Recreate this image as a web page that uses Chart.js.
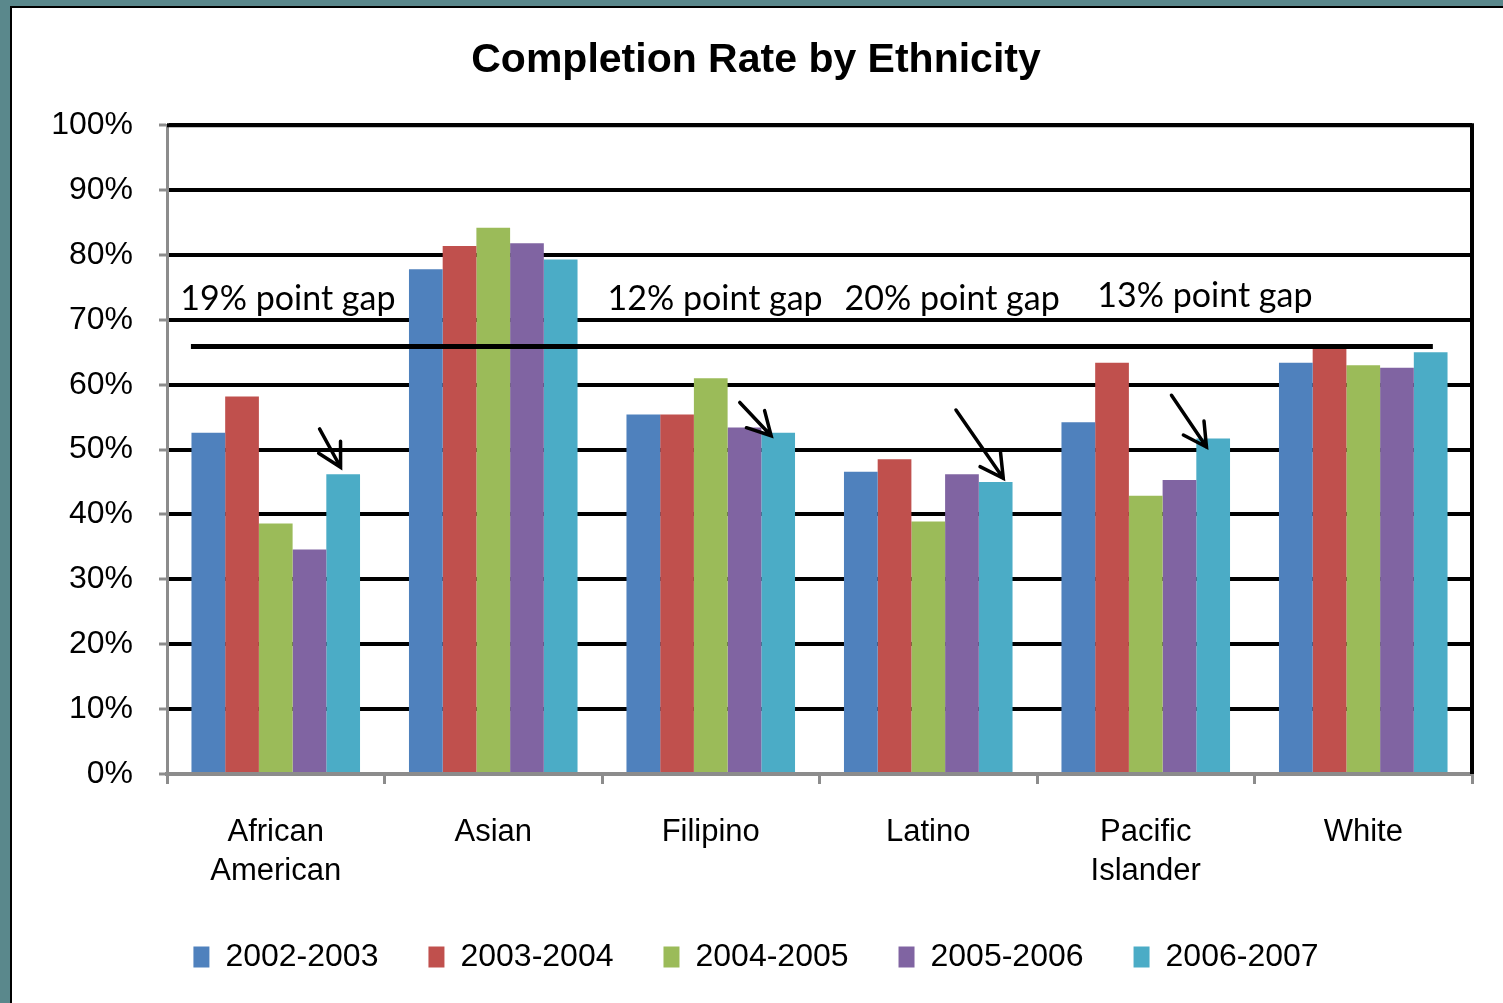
<!DOCTYPE html>
<html>
<head>
<meta charset="utf-8">
<title>Completion Rate by Ethnicity</title>
<script src="https://cdn.jsdelivr.net/npm/chart.js@4.4.0/dist/chart.umd.min.js"></script>
<style>
    html, body { margin: 0; padding: 0; width: 1503px; height: 1003px; overflow: hidden; background: #5a888c; }
    #panel { position: absolute; left: 10px; top: 6px; width: 1493px; height: 997px; background: #fff; border-left: 2px solid #000; border-top: 2px solid #000; }
    #wrap { position: absolute; left: 0; top: 0; width: 1503px; height: 1003px; }
</style>
</head>
<body>
<div id="panel"></div>
<div id="wrap"><canvas id="chart" width="1503" height="1003"></canvas></div>
<script>
// data (percent)
const categories = [['African', 'American'], 'Asian', 'Filipino', 'Latino', ['Pacific', 'Islander'], 'White'];
const years = ['2002-2003', '2003-2004', '2004-2005', '2005-2006', '2006-2007'];
const rate0203 = [52.6, 77.8, 55.4, 46.6, 54.2, 63.4];
const rate0304 = [58.2, 81.4, 55.4, 48.5, 63.4, 65.5];
const rate0405 = [38.6, 84.2, 61.0, 38.9, 42.9, 63.0];
const rate0506 = [34.6, 81.8, 53.4, 46.2, 45.3, 62.6];
const rate0607 = [46.2, 79.3, 52.6, 45.0, 51.7, 65.0];
const yTickStep = 10;

// annotations
const gapLabels = ['19% point gap', '12% point gap', '20% point gap', '13% point gap'];
const gapCategory = [0.056, 2.02, 3.11, 4.272];   // centre of each label, in category units
const gapLevel = [71.5, 71.5, 71.5, 72.0];         // text baseline, percent
const arrowCategory = [0, 2, 3, 4];                // arrows point at the 2006-2007 bar
const referenceLevel = 65.9;
const referenceFrom = -0.39;
const referenceTo = 5.32;

const colors = ['#4f81bd', '#c0504d', '#9bbb59', '#8064a2', '#4bacc6'];
const series = [rate0203, rate0304, rate0405, rate0506, rate0607];
const axisGray = '#8c8c8c';
const sans = "'Liberation Sans', Arial, sans-serif";

const plotFrame = {
    id: 'plotFrame',
    beforeDatasetsDraw(chart) {
        const { ctx, chartArea } = chart;
        ctx.save();
        ctx.strokeStyle = '#000';
        ctx.lineWidth = 4;
        ctx.beginPath();
        ctx.moveTo(chartArea.left, chartArea.top);
        ctx.lineTo(chartArea.right, chartArea.top);
        ctx.lineTo(chartArea.right, chartArea.bottom);
        ctx.stroke();
        ctx.restore();
    }
};

// tip / tail offsets in pixels, relative to the top of the pointed-at bar
const arrowStyle = {
    tip: [[-2.6, -7], [-7, 3], [7.6, -3.7], [-6.7, 8.4]],
    tail: [[-21, -38.3], [-31.4, -33.3], [-47.3, -68.3], [-35, -51.7]],
    head: 26,
    spread: 0.5
};

const gapNotes = {
    id: 'gapNotes',
    afterDatasetsDraw(chart) {
        const { ctx } = chart;
        const xs = chart.scales.x;
        const ys = chart.scales.y;
        ctx.save();

        // reference line
        const yRef = ys.getPixelForValue(referenceLevel);
        ctx.strokeStyle = '#000';
        ctx.lineWidth = 5;
        ctx.beginPath();
        ctx.moveTo(xs.getPixelForValue(referenceFrom), yRef);
        ctx.lineTo(xs.getPixelForValue(referenceTo), yRef);
        ctx.stroke();

        // gap labels
        ctx.fillStyle = '#000';
        ctx.font = "34px Lato, 'Open Sans', sans-serif";
        ctx.textAlign = 'center';
        ctx.textBaseline = 'alphabetic';
        gapLabels.forEach((txt, i) => {
            ctx.fillText(txt, xs.getPixelForValue(gapCategory[i]), ys.getPixelForValue(gapLevel[i]));
        });

        // arrows
        const bars = chart.getDatasetMeta(series.length - 1).data;
        ctx.lineWidth = 3.5;
        ctx.lineCap = 'round';
        arrowCategory.forEach((cat, i) => {
            const bar = bars[cat];
            const tx = bar.x + arrowStyle.tip[i][0];
            const ty = bar.y + arrowStyle.tip[i][1];
            const sx = tx + arrowStyle.tail[i][0];
            const sy = ty + arrowStyle.tail[i][1];
            const ang = Math.atan2(sy - ty, sx - tx);
            ctx.beginPath();
            ctx.moveTo(sx, sy);
            ctx.lineTo(tx, ty);
            ctx.moveTo(tx + arrowStyle.head * Math.cos(ang - arrowStyle.spread), ty + arrowStyle.head * Math.sin(ang - arrowStyle.spread));
            ctx.lineTo(tx, ty);
            ctx.lineTo(tx + arrowStyle.head * Math.cos(ang + arrowStyle.spread), ty + arrowStyle.head * Math.sin(ang + arrowStyle.spread));
            ctx.stroke();
        });
        ctx.restore();
    }
};

new Chart(document.getElementById('chart'), {
    type: 'bar',
    data: {
        labels: categories,
        datasets: series.map((values, i) => ({
            label: years[i],
            data: values,
            backgroundColor: colors[i],
            borderWidth: 0,
            categoryPercentage: 0.775,
            barPercentage: 1
        }))
    },
    options: {
        responsive: false,
        animation: false,
        layout: { padding: { left: 40, right: 31, top: 0, bottom: 20 } },
        plugins: {
            title: {
                display: true,
                text: 'Completion Rate by Ethnicity',
                color: '#000',
                font: { family: sans, size: 41, weight: 'bold', lineHeight: 1.2 },
                padding: { top: 36, bottom: 40 }
            },
            legend: {
                position: 'bottom',
                labels: {
                    boxWidth: 16,
                    boxHeight: 21,
                    padding: 50,
                    color: '#000',
                    font: { family: sans, size: 32 }
                }
            },
            tooltip: { enabled: false }
        },
        scales: {
            x: {
                grid: { display: true, drawOnChartArea: false, drawTicks: true, tickLength: 10, color: axisGray, lineWidth: 3, offset: true },
                border: { color: axisGray, width: 4 },
                ticks: { color: '#000', font: { family: sans, size: 31, lineHeight: 1.25 }, padding: 29, maxRotation: 0, autoSkip: false },
                afterFit: s => { s.height = 117; }
            },
            y: {
                min: 0,
                max: 100,
                ticks: { stepSize: yTickStep, callback: v => v + '%', color: '#000', font: { family: sans, size: 32 }, padding: 26 },
                grid: {
                    color: c => (c.tick && c.tick.value === 0 ? 'rgba(0,0,0,0)' : '#000'),
                    lineWidth: 4,
                    tickLength: 8,
                    tickColor: axisGray,
                    tickWidth: 3
                },
                border: { color: axisGray, width: 3 },
                afterFit: s => { s.width = 127; }
            }
        }
    },
    plugins: [plotFrame, gapNotes]
});
</script>
</body>
</html>
